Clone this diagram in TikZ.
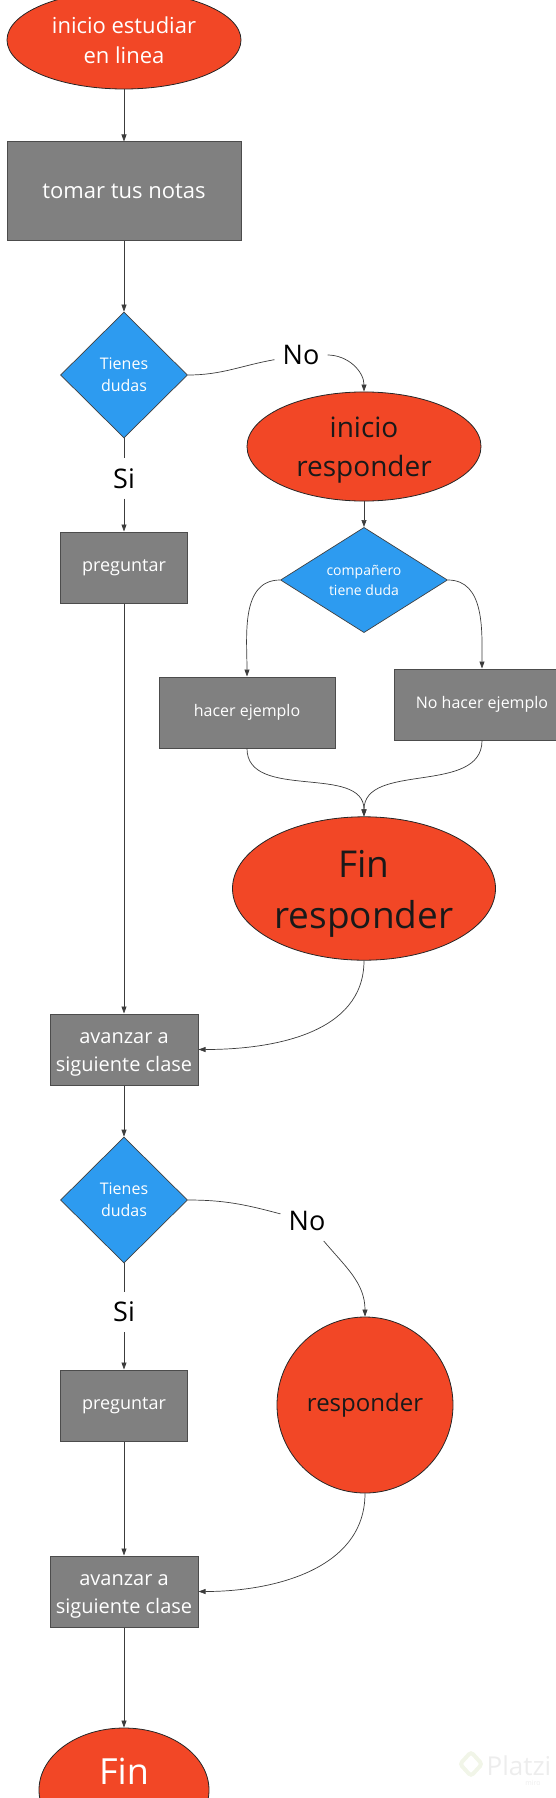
\documentclass[tikz,border=0pt]{standalone}
\usepackage{fontspec}
\setmainfont{Open Sans}
\usepackage{tikz}
\usepackage{xcolor}
\usetikzlibrary{arrows.meta,shapes.geometric}

\definecolor{miroRed}{HTML}{F24726}
\definecolor{miroBlue}{HTML}{2D9BF0}
\definecolor{boxGray}{HTML}{808080}
\definecolor{lineGray}{HTML}{3C3C3C}
\definecolor{markGray}{HTML}{EDEDED}
\definecolor{markGreen}{HTML}{F1F5E8}

% caja de linea completa (ascenso + descenso) para textos de dos lineas
\newcommand{\lineStrut}{\rule[-0.293em]{0pt}{1.362em}}

\begin{document}
\begin{tikzpicture}[x=1pt, y=1pt,
    startend/.style={ellipse, draw=black!85, line width=0.8pt, fill=miroRed, inner sep=0pt, align=center},
    process/.style={rectangle, draw=black!70, line width=1pt, fill=boxGray, text=white, inner sep=0pt, align=center},
    decision/.style={diamond, draw=black!75, line width=0.7pt, fill=miroBlue, text=white, inner sep=0pt, align=center},
    answer/.style={font=\fontsize{27}{32}\selectfont, inner xsep=8pt, inner ysep=10pt},
    flow/.style={-{Triangle[length=7pt, width=5pt]}, line width=0.7pt, draw=lineGray},
    link/.style={line width=0.7pt, draw=lineGray}]
    \useasboundingbox (0,0) rectangle (556,-1798);
    \clip (0,0) rectangle (556,-1798);

    % Primera pregunta
    \node [startend, minimum width=234pt, minimum height=98pt, text=white, font=\fontsize{22}{30}\selectfont] (start) at (124,-40) {\lineStrut inicio estudiar\\en linea\lineStrut};
    \node [process, minimum width=234pt, minimum height=98pt, font=\fontsize{22}{30}\selectfont] (notas) at (124,-191) {tomar tus notas};
    \node [decision, minimum width=127pt, minimum height=126pt, font=\fontsize{16}{22}\selectfont] (duda1) at (124,-375) {Tienes\\dudas};
    \node [answer] (no1) at (301,-355) {No};
    \node [answer] (si1) at (124,-478.5) {Si};
    \node [process, minimum width=127pt, minimum height=71pt, font=\fontsize{18}{24}\selectfont] (preg1) at (124,-567.5) {preguntar};

    % Responder al companero
    \node [startend, minimum width=234pt, minimum height=97pt, text=black!90, font=\fontsize{28}{39}\selectfont] (resp) at (364,-446.5) {\lineStrut inicio\\responder\lineStrut};
    \node [decision, minimum width=167pt, minimum height=96pt, font=\fontsize{14}{20}\selectfont] (compa) at (364,-580) {compañero\\tiene duda};
    \node [process, minimum width=176pt, minimum height=71pt, font=\fontsize{16}{20}\selectfont] (hacer) at (247,-712.5) {hacer ejemplo};
    \node [process, minimum width=176pt, minimum height=71pt, font=\fontsize{16}{20}\selectfont] (nohacer) at (482,-704.5) {No hacer ejemplo};
    \node [startend, minimum width=263pt, minimum height=131pt, text=black!90, font=\fontsize{37}{51}\selectfont] (finresp) at (364,-888.5) {\lineStrut Fin\\responder\lineStrut};
    \node [process, minimum width=148pt, minimum height=71pt, font=\fontsize{20}{28}\selectfont] (avanzar1) at (124,-1049.5) {\lineStrut avanzar a\\siguiente clase\lineStrut};

    % Segunda pregunta
    \node [decision, minimum width=127pt, minimum height=126pt, font=\fontsize{16}{22}\selectfont] (duda2) at (124,-1200) {Tienes\\dudas};
    \node [answer] (no2) at (307,-1221) {No};
    \node [answer] (si2) at (124,-1312) {Si};
    \node [process, minimum width=127pt, minimum height=71pt, font=\fontsize{18}{24}\selectfont] (preg2) at (124,-1405.5) {preguntar};
    \node [startend, circle, minimum size=176pt, text=black!90, font=\fontsize{24}{33}\selectfont] (resp2) at (365,-1405) {responder};
    \node [process, minimum width=148pt, minimum height=71pt, font=\fontsize{20}{28}\selectfont] (avanzar2) at (124,-1591.5) {\lineStrut avanzar a\\siguiente clase\lineStrut};
    \node [startend, minimum width=170pt, minimum height=124pt, text=white, font=\fontsize{36}{40}\selectfont] (fin) at (124,-1790) {\raisebox{19pt}[\height][\depth]{Fin}};

    % marca de agua
    \node [text=markGray, font=\fontsize{26}{30}\selectfont] (platzi) at (519,-1766) {Platzi};
    \node [text=markGray, font=\fontsize{7}{8}\selectfont] (miro) at (533,-1783) {miro};
    \draw [markGreen, line width=4pt, rounded corners=3pt] (471,-1752) -- (482,-1764) -- (471,-1776) -- (460,-1764) -- cycle;

    % conexiones
    \draw [flow] (start) -- (notas);
    \draw [flow] (notas) -- (duda1);
    \draw [link] (duda1.east) to[out=0, in=190] (no1);
    \draw [flow] (no1) to[out=0, in=90] (resp.north);
    \draw [link] (duda1) -- (si1);
    \draw [flow] (si1) -- (preg1);
    \draw [flow] (resp) -- (compa);
    \draw [flow] (compa.west) to[out=180, in=90] (hacer.north);
    \draw [flow] (compa.east) to[out=0, in=90] (nohacer.north);
    \draw [flow] (hacer.south) to[out=-90, in=90] (finresp.north);
    \draw [flow] (nohacer.south) to[out=-90, in=90] (finresp.north);
    \draw [flow] (preg1) -- (avanzar1);
    \draw [flow] (finresp.south) to[out=-90, in=0] (avanzar1.east);
    \draw [flow] (avanzar1) -- (duda2);
    \draw [link] (duda2.east) to[out=0, in=165] (no2);
    \draw [flow] (no2) to[out=-50, in=90] (resp2.north);
    \draw [link] (duda2) -- (si2);
    \draw [flow] (si2) -- (preg2);
    \draw [flow] (preg2) -- (avanzar2);
    \draw [flow] (resp2.south) to[out=-90, in=0] (avanzar2.east);
    \draw [flow] (avanzar2) -- (fin);
\end{tikzpicture}
\end{document}
